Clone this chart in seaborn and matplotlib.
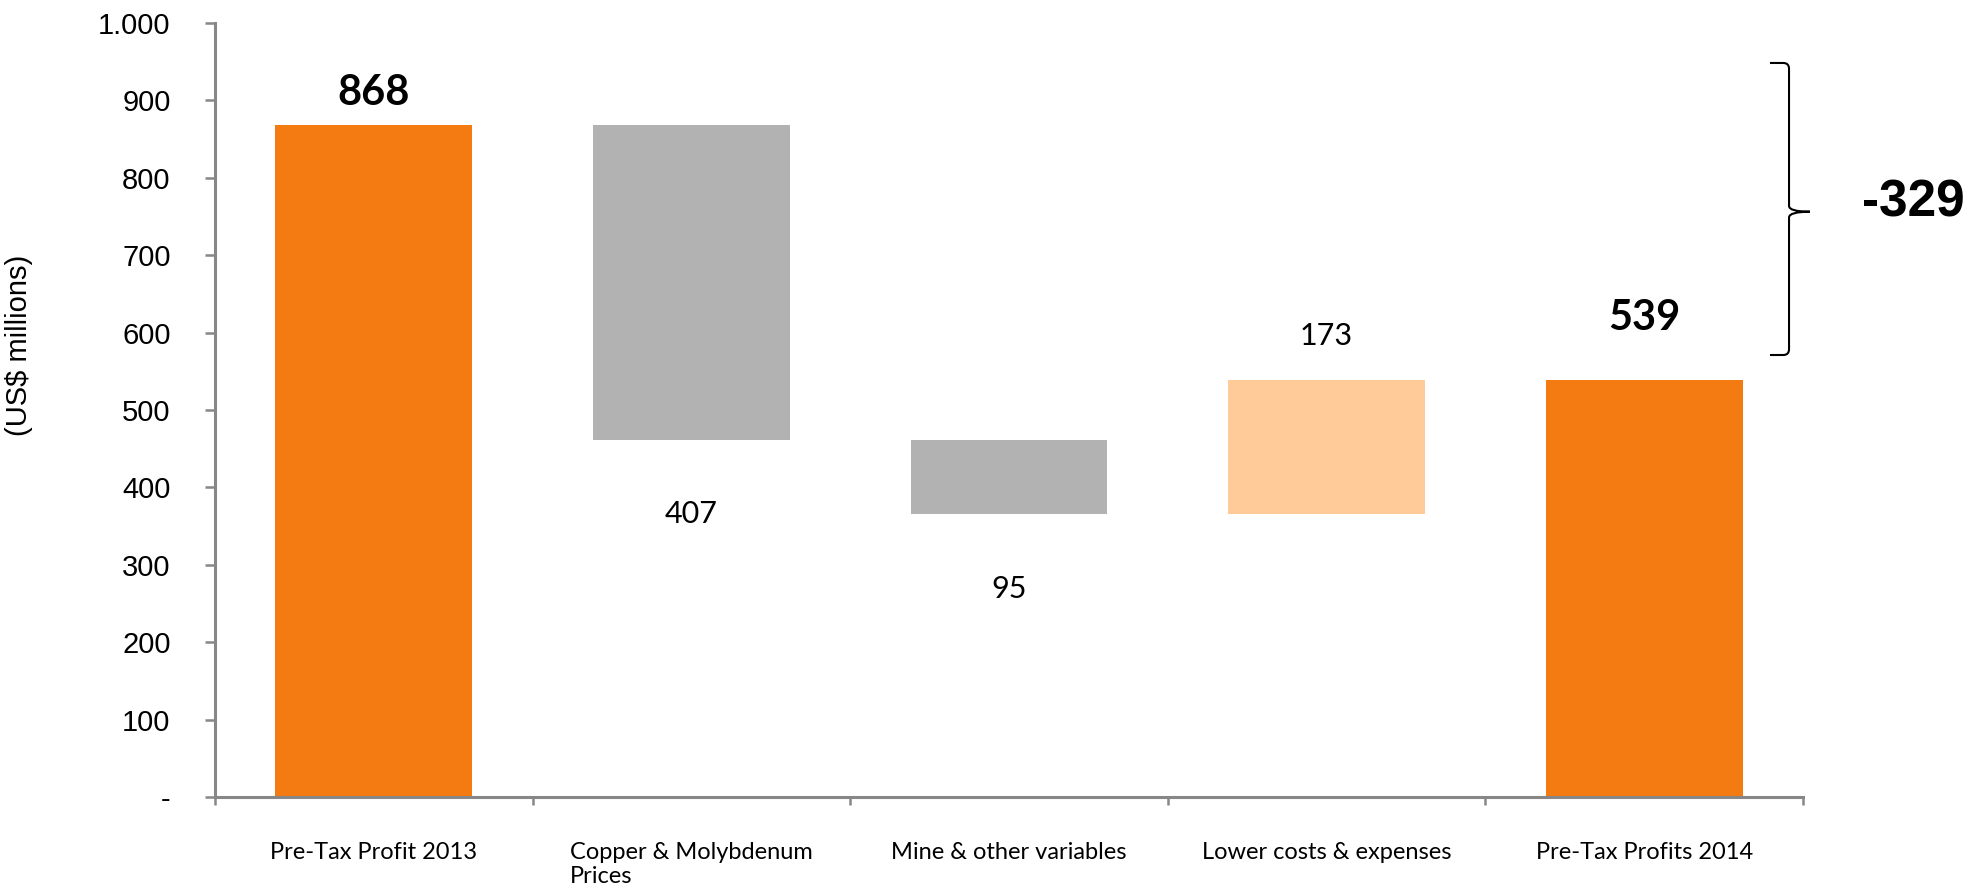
import matplotlib
matplotlib.use("Agg")
import matplotlib.pyplot as plt
import seaborn as sns
import pandas as pd
from matplotlib.path import Path
from matplotlib.patches import PathPatch
from matplotlib.ticker import FuncFormatter

# ---------------- data ----------------
categories = ["Pre-Tax Profit 2013", "Copper & Molybdenum\nPrices",
              "Mine & other variables", "Lower costs & expenses",
              "Pre-Tax Profits 2014"]
start_value = 868
changes = [-407, -95, 173]
end_value = 539
value_labels = ["868", "407", "95", "173", "539"]
total_change_label = "-329"
y_ticks = [0, 100, 200, 300, 400, 500, 600, 700, 800, 900, 1000]
bar_colors = ["#F47A12", "#B2B2B2", "#B2B2B2", "#FFCC99", "#F47A12"]

# ---------------- derived ----------------
heights = [start_value] + [abs(c) for c in changes] + [end_value]
bases = [0]
level = start_value
for c in changes:
    new = level + c
    bases.append(min(level, new))
    level = new
bases.append(0)

sns.set_theme(style="white")
plt.rcParams['font.family'] = ['Liberation Sans', 'DejaVu Sans']

W, H = 1965, 891
fig = plt.figure(figsize=(W / 100, H / 100), dpi=100)
ax = fig.add_axes([215 / W, 1 - 797.3 / H, (1803 - 215) / W, (797.3 - 22.7) / H])

df = pd.DataFrame({"cat": categories, "height": heights})
sns.barplot(data=df, x="cat", y="height", hue="cat", palette=bar_colors,
            legend=False, width=0.62, saturation=1, ax=ax,
            edgecolor="none", linewidth=0)
for p, b in zip(ax.patches, bases):
    p.set_y(b)

ax.set_xlim(-0.5, 4.5)
ax.set_ylim(0, 1000)

axis_gray = "#878787"
for s in ["top", "right"]:
    ax.spines[s].set_visible(False)
for s in ["left", "bottom"]:
    ax.spines[s].set_color(axis_gray)
    ax.spines[s].set_linewidth(2.2)

ax.set_yticks(y_ticks)
ax.yaxis.set_major_formatter(FuncFormatter(
    lambda v, pos: "-" if v == 0 else f"{int(v):,}".replace(",", ".")))
ax.tick_params(axis="y", which="major", left=True, length=7, width=1.8,
               color=axis_gray, direction="out", labelsize=21, pad=25,
               labelcolor="black")

ax.set_xticks(range(len(categories)))
ax.set_xticklabels(categories, fontfamily="Lato", fontsize=17,
                   multialignment="left")
ax.set_xticks([i - 0.5 for i in range(len(categories) + 1)], minor=True)
ax.tick_params(axis="x", which="major", bottom=False, length=0, pad=32,
               labelcolor="black")
ax.tick_params(axis="x", which="minor", bottom=True, length=6, width=1.8,
               color=axis_gray, direction="out")
ax.set_xlabel("")
ax.set_ylabel("")

ax.text(-0.1235, 0.583, "(US$ millions)", transform=ax.transAxes, rotation=90,
        ha="center", va="center", fontsize=21, color="black")

# value labels
tops = [b + h for b, h in zip(bases, heights)]
label_y = [tops[0] + 41, bases[1] - 95, bases[2] - 97, tops[3] + 57, tops[4] + 80]
label_bold = [True, False, False, False, True]
for i, (txt, yv, bold) in enumerate(zip(value_labels, label_y, label_bold)):
    ax.text(i, yv, txt, ha="center", va="center", fontfamily="Lato",
            fontsize=30 if bold else 22,
            fontweight="bold" if bold else "normal", color="black")

# brace
x0, x1, x2 = 4.396, 4.456, 4.522
ytop, ymid, ybot = 948, 756, 571
rx, ry = 0.018, 7.5
verts = [(x0, ytop), (x1 - rx, ytop), (x1, ytop), (x1, ytop - ry),
         (x1, ymid + ry), (x1, ymid), (x2, ymid),
         (x2, ymid), (x1, ymid), (x1, ymid - ry),
         (x1, ybot + ry), (x1, ybot), (x1 - rx, ybot), (x0, ybot)]
codes = [Path.MOVETO, Path.LINETO, Path.CURVE3, Path.CURVE3,
         Path.LINETO, Path.CURVE3, Path.CURVE3,
         Path.MOVETO, Path.CURVE3, Path.CURVE3,
         Path.LINETO, Path.CURVE3, Path.CURVE3, Path.LINETO]
ax.add_patch(PathPatch(Path(verts, codes), facecolor="none", edgecolor="black",
                       linewidth=1.5, clip_on=False))

fig.text(1862 / W, 1 - 203 / H, total_change_label, ha="left", va="center",
         fontsize=37, fontweight="bold", color="black")

fig.savefig("out.png", dpi=100, facecolor="white")
